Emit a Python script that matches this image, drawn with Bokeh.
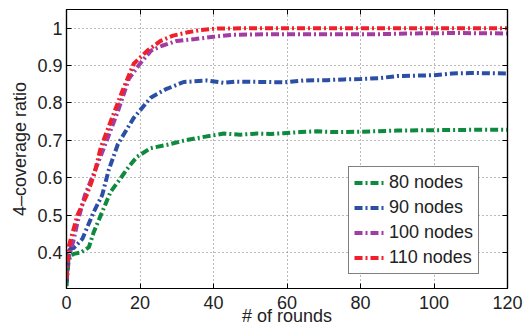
from bokeh.plotting import figure
from bokeh.models import (Range1d, LinearAxis, FixedTicker, Legend, LegendItem)
from bokeh.embed import file_html
from bokeh.resources import INLINE

# ---- data ----
x_red = [0, 0.5, 1, 3, 5.5, 7.5, 9.3, 12.4, 15.2, 18.3, 22, 25.6, 29, 33, 36.5, 41, 50, 60, 70, 80, 90, 100, 110, 120]
y_red = [0.33, 0.41, 0.43, 0.50, 0.553, 0.607, 0.68, 0.76, 0.832, 0.905, 0.94, 0.966, 0.98, 0.989, 0.995, 0.999, 1.0, 1.0, 1.0, 1.0, 1.0, 1.0, 1.0, 1.0]

x_pur = [0, 0.5, 1, 2, 3, 5, 8, 10, 14, 17, 20, 23, 26, 30, 35, 40, 45, 55, 65, 75, 85, 95, 105, 120]
y_pur = [0.33, 0.38, 0.40, 0.436, 0.481, 0.553, 0.625, 0.675, 0.778, 0.865, 0.905, 0.94, 0.953, 0.966, 0.971, 0.977, 0.982, 0.984, 0.984, 0.984, 0.984, 0.986, 0.987, 0.986]

x_blu = [0, 0.5, 1, 2, 4.3, 7.4, 9.7, 11.5, 14, 18.3, 22.9, 26.9, 31.9, 38.3, 42.8, 46.4, 54.6, 59.2, 64.6, 70.9, 75.5, 80, 85, 90, 95, 100, 105, 110, 120]
y_blu = [0.32, 0.39, 0.41, 0.412, 0.436, 0.508, 0.553, 0.621, 0.69, 0.76, 0.814, 0.836, 0.856, 0.86, 0.854, 0.857, 0.856, 0.855, 0.86, 0.861, 0.863, 0.864, 0.866, 0.872, 0.873, 0.874, 0.879, 0.88, 0.879]

x_grn = [0, 0.5, 1, 2, 4, 6.1, 7.4, 9.7, 12, 14.7, 17, 19.2, 22.9, 27.4, 31.9, 35.6, 39.2, 42.8, 47.3, 51.9, 55.5, 59.1, 63.7, 68.2, 72.8, 80, 90, 100, 110, 120]
y_grn = [0.31, 0.37, 0.39, 0.396, 0.40, 0.414, 0.454, 0.508, 0.562, 0.598, 0.63, 0.656, 0.679, 0.688, 0.699, 0.706, 0.712, 0.718, 0.715, 0.718, 0.717, 0.719, 0.722, 0.724, 0.722, 0.723, 0.726, 0.727, 0.728, 0.728]

series_names = ["80 nodes", "90 nodes", "100 nodes", "110 nodes"]
series_colors = ["#0e8a3e", "#2c4fa6", "#a23ca3", "#f0202a"]

x_ticks = [0, 20, 40, 60, 80, 100, 120]
y_ticks = [0.4, 0.5, 0.6, 0.7, 0.8, 0.9, 1.0]
y_tick_labels = {0.4: "0.4", 0.5: "0.5", 0.6: "0.6", 0.7: "0.7", 0.8: "0.8", 0.9: "0.9", 1.0: "1"}

FONT = "Liberation Sans"

p = figure(width=524, height=329, output_backend="svg", toolbar_location=None,
           x_range=Range1d(0, 120), y_range=Range1d(0.3034, 1.05),
           min_border_left=66, min_border_right=17, min_border_top=9, min_border_bottom=41)
p.background_fill_color = "white"
p.border_fill_color = "white"
p.outline_line_color = "black"
p.outline_line_width = 1.2

# main axes
for ax in (p.xaxis[0], p.yaxis[0]):
    ax.axis_line_color = "black"
    ax.axis_line_width = 1.2
    ax.major_tick_in = 5
    ax.major_tick_out = 0
    ax.minor_tick_line_color = None
    ax.major_label_text_font = FONT
    ax.major_label_text_font_size = "18px"
    ax.major_label_text_color = "#222222"
    ax.axis_label_text_font = FONT
    ax.axis_label_text_font_size = "18px"
    ax.axis_label_text_font_style = "normal"
    ax.axis_label_text_color = "#222222"
p.xaxis[0].ticker = FixedTicker(ticks=x_ticks)
p.yaxis[0].ticker = FixedTicker(ticks=y_ticks)
p.yaxis[0].major_label_overrides = y_tick_labels
p.xaxis[0].major_label_standoff = 7
p.yaxis[0].major_label_standoff = 4
p.yaxis[0].axis_label = "4\u2013coverage ratio"
p.yaxis[0].axis_label_standoff = 4
p.xaxis[0].axis_label = "# of rounds"
p.xaxis[0].axis_label_standoff = -6

# box axes (top / right) with inward ticks, no labels
for loc, ticks in (("right", y_ticks), ("above", x_ticks)):
    a = LinearAxis(ticker=FixedTicker(ticks=ticks), major_label_text_color=None,
                   major_tick_in=5, major_tick_out=0, minor_tick_line_color=None,
                   axis_line_color="black", axis_line_width=1.2, major_label_standoff=0)
    p.add_layout(a, loc)

# grid
for g in (p.xgrid[0], p.ygrid[0]):
    g.grid_line_color = "#777777"
    g.grid_line_dash = "1 3"
    g.grid_line_width = 1
p.xgrid[0].ticker = FixedTicker(ticks=x_ticks)
p.ygrid[0].ticker = FixedTicker(ticks=y_ticks)

xs = [x_grn, x_blu, x_pur, x_red]
ys = [y_grn, y_blu, y_pur, y_red]
items = []
for xx, yy, name, col in zip(xs, ys, series_names, series_colors):
    r = p.line(xx, yy, line_color=col, line_width=4, line_dash="8 3 2 3", line_cap="butt")
    items.append(LegendItem(label=name, renderers=[r]))

legend = Legend(items=items, location=(282, 14),
                label_text_font=FONT, label_text_font_size="18px", label_text_color="#222222",
                glyph_width=30, glyph_height=21, label_height=21, spacing=4,
                padding=5, margin=0, label_standoff=5,
                border_line_color="black", border_line_width=1.2,
                background_fill_color="white", background_fill_alpha=1)
p.add_layout(legend, "center")

open("out.html", "w").write(file_html(p, INLINE))
